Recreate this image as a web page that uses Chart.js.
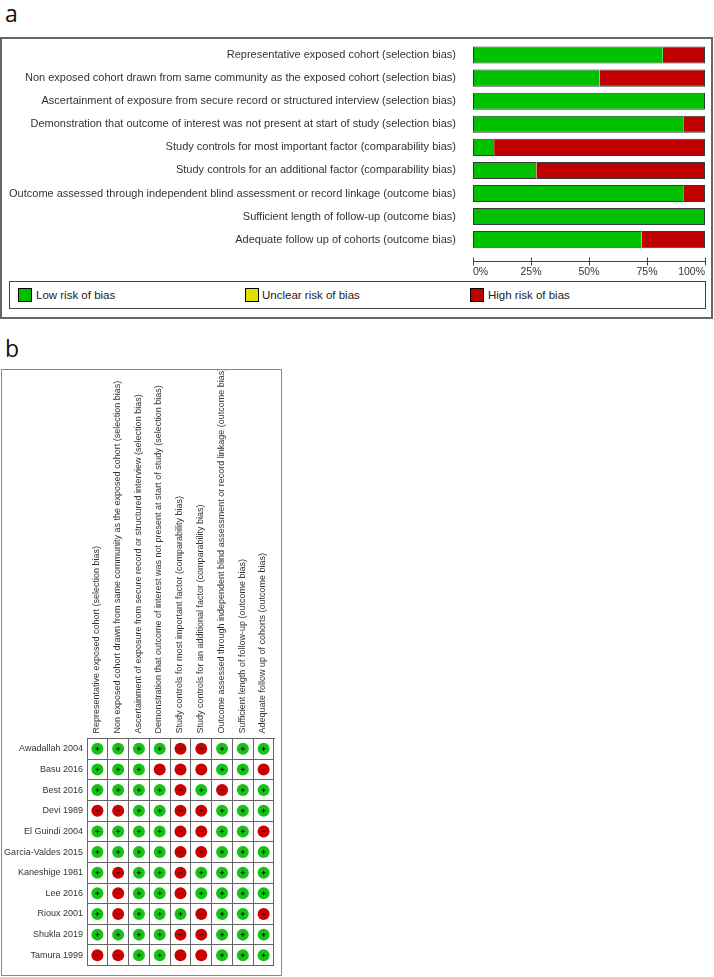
<!DOCTYPE html>
<html>
<head>
<meta charset="utf-8">
<script src="https://cdn.jsdelivr.net/npm/chart.js@4.4.1/dist/chart.umd.min.js"></script>
<style>
body { margin: 0; background: #fff; width: 714px; height: 977px; position: relative; overflow: hidden; font-family: 'Liberation Sans', Arial, sans-serif; }
.tag { position: absolute; font-family: 'Open Sans', sans-serif; font-size: 23px; line-height: 23px; color: #111; }
#boxA { position: absolute; left: 0; top: 37px; width: 713px; height: 282px; border: 2px solid #666; box-sizing: border-box; }
#wrapA { position: absolute; left: 0; top: 38px; width: 712px; height: 243px; }
#legendA { position: absolute; left: 9px; top: 281px; width: 697px; height: 28px; border: 1px solid #444; box-sizing: border-box; }
.sw { position: absolute; top: 6px; width: 14px; height: 14px; border: 1px solid #000; box-sizing: border-box; }
.lt { position: absolute; top: 5px; font-size: 11.5px; line-height: 16px; color: #222; }
#boxB { position: absolute; left: 1px; top: 369px; width: 281px; height: 607px; border: 1px solid #888; box-sizing: border-box; }
#wrapB { position: absolute; left: 2px; top: 370px; width: 278px; height: 605px; }
</style>
</head>
<body>
<div class="tag" style="left:5px; top:2px;">a</div>
<div id="boxA"></div>
<div id="wrapA"><canvas id="summaryChart"></canvas></div>
<div id="legendA">
  <div class="sw" style="left:8px; background:#00c000;"></div><div class="lt" style="left:26px;">Low risk of bias</div>
  <div class="sw" style="left:235px; background:#e0e000;"></div><div class="lt" style="left:252px;">Unclear risk of bias</div>
  <div class="sw" style="left:460px; background:#c00000;"></div><div class="lt" style="left:478px;">High risk of bias</div>
</div>
<div class="tag" style="left:5px; top:337px;">b</div>
<div id="boxB"></div>
<div id="wrapB"><canvas id="trafficChart"></canvas></div>
<script>
'use strict';

// Bias domains (rows in panel a, columns in panel b)
const domains = [
    'Representative exposed cohort (selection bias)',
    'Non exposed cohort drawn from same community as the exposed cohort (selection bias)',
    'Ascertainment of exposure from secure record or structured interview (selection bias)',
    'Demonstration that outcome of interest was not present at start of study (selection bias)',
    'Study controls for most important factor (comparability bias)',
    'Study controls for an additional factor (comparability bias)',
    'Outcome assessed through independent blind assessment or record linkage (outcome bias)',
    'Sufficient length of follow-up (outcome bias)',
    'Adequate follow up of cohorts (outcome bias)'
];

// Panel a: percent of studies per judgement
const lowPct     = [81.8, 54.5, 100, 90.9, 9.1, 27.3, 90.9, 100, 72.7];
const unclearPct = [0, 0, 0, 0, 0, 0, 0, 0, 0];
const highPct    = [18.2, 45.5, 0, 9.1, 90.9, 72.7, 9.1, 0, 27.3];
const pctTicks   = [0, 25, 50, 75, 100];

// Panel b: studies and judgement per domain (1 = low risk "+", 0 = high risk "-")
const studies = ['Awadallah 2004', 'Basu 2016', 'Best 2016', 'Devi 1989', 'El Guindi 2004',
    'Garcia-Valdes 2015', 'Kaneshige 1981', 'Lee 2016', 'Rioux 2001', 'Shukla 2019', 'Tamura 1999'];
const judgements = [
    [1, 1, 1, 1, 0, 0, 1, 1, 1],
    [1, 1, 1, 0, 0, 0, 1, 1, 0],
    [1, 1, 1, 1, 0, 1, 0, 1, 1],
    [0, 0, 1, 1, 0, 0, 1, 1, 1],
    [1, 1, 1, 1, 0, 0, 1, 1, 0],
    [1, 1, 1, 1, 0, 0, 1, 1, 1],
    [1, 0, 1, 1, 0, 1, 1, 1, 1],
    [1, 0, 1, 1, 0, 1, 1, 1, 1],
    [1, 0, 1, 1, 1, 0, 1, 1, 0],
    [1, 1, 1, 1, 0, 0, 1, 1, 1],
    [0, 0, 1, 1, 0, 0, 1, 1, 1]
];

const GREEN = '#00c000';
const YELLOW = '#e0e000';
const RED = '#c00000';
const SANS = "'Liberation Sans', Arial, sans-serif";

// outline only the outer edge of each stacked bar, no divider between segments
const segBorder = (ctx) => {
    const v = ctx.raw;
    if (!v) return 0;
    const i = ctx.dataIndex;
    const before = ctx.datasetIndex > 0 && lowPct[i] > 0;
    const after = ctx.datasetIndex === 0 && highPct[i] + unclearPct[i] > 0;
    return { top: 1, bottom: 1, left: before ? 0 : 1, right: after ? 0 : 1 };
};

// percent axis drawn a little below the bars, ticks crossing the line
const percentAxis = {
    id: 'percentAxis',
    afterDraw(chart) {
        const x = chart.scales.x;
        const y0 = Math.round(chart.chartArea.bottom + 10) + 0.5;
        const c = chart.ctx;
        c.save();
        c.strokeStyle = '#444';
        c.lineWidth = 1;
        c.beginPath();
        c.moveTo(x.getPixelForValue(0), y0);
        c.lineTo(x.getPixelForValue(100), y0);
        pctTicks.forEach(t => {
            const px = Math.round(x.getPixelForValue(t)) + 0.5;
            c.moveTo(px, y0 - 4);
            c.lineTo(px, y0 + 4);
        });
        c.stroke();
        c.fillStyle = '#333';
        c.font = '10.5px ' + SANS;
        c.textBaseline = 'middle';
        pctTicks.forEach((t, k) => {
            c.textAlign = k === 0 ? 'left' : (k === pctTicks.length - 1 ? 'right' : 'center');
            c.fillText(t + '%', x.getPixelForValue(t), y0 + 11);
        });
        c.restore();
    }
};

new Chart(document.getElementById('summaryChart'), {
    type: 'bar',
    data: {
        labels: domains,
        datasets: [
            { label: 'Low risk of bias', data: lowPct, backgroundColor: GREEN },
            { label: 'Unclear risk of bias', data: unclearPct, backgroundColor: YELLOW },
            { label: 'High risk of bias', data: highPct, backgroundColor: RED }
        ]
    },
    options: {
        indexAxis: 'y',
        responsive: true,
        maintainAspectRatio: false,
        animation: false,
        layout: { padding: { top: 5.5, right: 7, bottom: 29.8, left: 0 } },
        datasets: {
            bar: {
                categoryPercentage: 1,
                barPercentage: 0.74,
                borderColor: '#3a3a3a',
                borderSkipped: false,
                borderWidth: segBorder
            }
        },
        scales: {
            x: { stacked: true, min: 0, max: 100, display: false },
            y: {
                stacked: true,
                grid: { display: false },
                border: { display: false },
                ticks: { padding: 9, color: '#333', font: { family: SANS, size: 11 } },
                afterFit: (s) => { s.width = 473; s.paddingTop = 0; s.paddingBottom = 0; }
            }
        },
        plugins: { legend: { display: false }, tooltip: { enabled: false } }
    },
    plugins: [percentAxis]
});

// Traffic light plot
const cells = [];
judgements.forEach((row, i) => {
    row.forEach((v, j) => {
        cells.push({ x: domains[j], y: studies[i], v: v });
    });
});

new Chart(document.getElementById('trafficChart'), {
    type: 'scatter',
    data: {
        datasets: [
            {
                // signs on top
                order: 1,
                data: cells.slice(),
                pointStyle: (ctx) => ctx.raw && ctx.raw.v ? 'cross' : 'line',
                pointRadius: 2,
                pointBorderWidth: 1,
                pointBorderColor: '#111',
                pointBackgroundColor: 'rgba(0,0,0,0)'
            },
            {
                order: 2,
                data: cells.slice(),
                pointStyle: 'circle',
                pointRadius: 6,
                pointBorderWidth: 0,
                pointBackgroundColor: (ctx) => ctx.raw && ctx.raw.v ? '#14c414' : '#cc0000'
            }
        ]
    },
    options: {
        responsive: true,
        maintainAspectRatio: false,
        animation: false,
        layout: { padding: { top: 0, right: 6, bottom: 5.5, left: 0 } },
        scales: {
            x: {
                type: 'category',
                labels: domains,
                position: 'top',
                offset: true,
                grid: { offset: true, color: '#666', drawTicks: false },
                border: { color: '#666' },
                ticks: { minRotation: 90, maxRotation: 90, autoSkip: false, padding: 5, labelOffset: 10, color: '#333', font: { family: SANS, size: 9 } },
                afterFit: (s) => { s.height = 368.5; }
            },
            y: {
                type: 'category',
                labels: studies,
                offset: true,
                grid: { offset: true, color: '#666', drawTicks: false },
                border: { color: '#666' },
                ticks: { autoSkip: false, padding: 4, color: '#333', font: { family: SANS, size: 9 } },
                afterFit: (s) => { s.width = 85; }
            }
        },
        plugins: { legend: { display: false }, tooltip: { enabled: false } }
    }
});
</script>
</body>
</html>
